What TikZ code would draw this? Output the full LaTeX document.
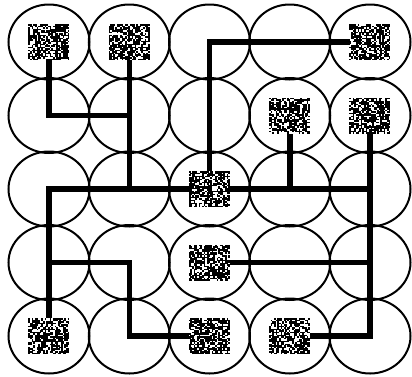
\documentclass[tikz,border=0pt]{standalone}
\usetikzlibrary{shapes.geometric}
\begin{document}
\begin{tikzpicture}[x=1pt,y=-1pt,
  ring/.style={draw=black,ellipse,line width=2pt,minimum width=81pt,minimum height=75pt,inner sep=0pt},
  wire/.style={line width=5.5pt,line cap=rect,line join=miter},
  noisy/.style={minimum width=41pt,minimum height=36pt,inner sep=0pt,fill=white},
  speck/.style={fill=black}]
\useasboundingbox (0,0) rectangle (412,376);
\fill[white] (0,0) rectangle (412,376);
\pgfmathsetseed{7}
% circles
\foreach \c in {1,...,5}{
  \foreach \r in {1,...,5}{
    \node[ring] (c\c\r) at ({49+80.25*(\c-1)},{42+73.5*(\r-1)}) {};
  }
}
% wires
\draw[wire] (c11.center) -- (c12.center) -- (c22.center);
\draw[wire] (c21.center) -- (c23.center);
\draw[wire] (c51.center) -- (c31.center) -- (c33.center);
\draw[wire] (c53.center) -- (c13.center) -- (c15.center);
\draw[wire] (c42.center) -- (c43.center);
\draw[wire] (c52.center) -- (c55.center) -- (c45.center);
\draw[wire] (c14.center) -- (c24.center) -- (c25.center) -- (c35.center);
\draw[wire] (c34.center) -- (c54.center);
% noisy squares
\foreach \p in {11,21,51,42,52,33,34,15,35,45}{
  \node[noisy] (s\p) at (c\p.center) {};
  \foreach \i in {0,...,24}{
    \foreach \j in {0,...,23}{
      \pgfmathparse{rnd<0.64 ? 1 : 0}
      \ifnum\pgfmathresult=1
        \fill[speck] ([xshift=\i*1.64pt,yshift=\j*1.5pt]s\p.south west) rectangle +(1.7pt,1.55pt);
      \fi
    }
  }
}
\end{tikzpicture}
\end{document}
